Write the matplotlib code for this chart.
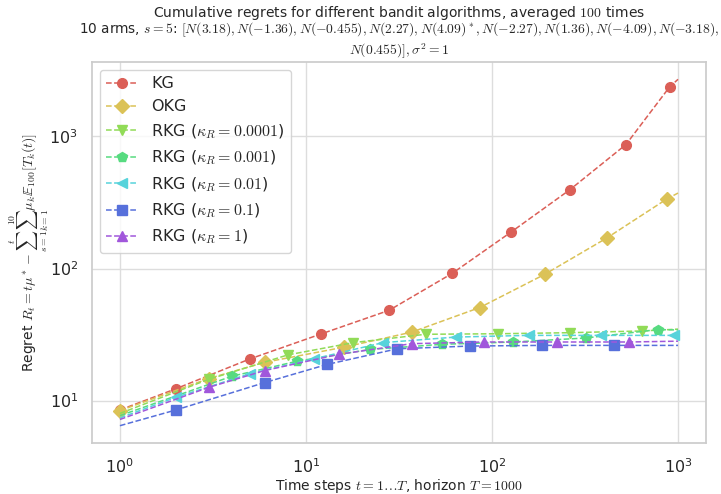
import matplotlib
matplotlib.use("Agg")
import matplotlib.pyplot as plt
import seaborn as sns

# ---- data ----
kg_t = [1, 2, 5, 12, 28, 61, 126, 262, 525, 901, 1000]
kg_r = [8.5, 12.3, 20.7, 31.9, 48.3, 91.8, 188, 395, 869, 2373, 2710]
kg_m = [0, 1, 2, 3, 4, 5, 6, 7, 8, 9]

okg_t = [1, 3, 6, 16, 37, 86, 192, 413, 875, 1000]
okg_r = [8.4, 14.7, 19.5, 25.4, 33.0, 50.7, 90.4, 170, 338, 373]
okg_m = [0, 1, 2, 3, 4, 5, 6, 7, 8]

rkg4_t = [1, 3, 8, 18, 44, 108, 264, 642, 1000]
rkg4_r = [8.0, 14.5, 22.2, 27.5, 31.8, 32.1, 32.7, 33.7, 34.8]
rkg4_m = [1, 2, 3, 4, 5, 6, 7]

rkg3_t = [1, 4, 9, 22, 54, 130, 319, 776, 1000]
rkg3_r = [7.7, 15.3, 19.9, 24.4, 26.7, 27.8, 29.8, 34.5, 34.3]
rkg3_m = [1, 2, 3, 4, 5, 6, 7]

rkg2_t = [1, 2, 5, 11, 26, 64, 158, 385, 954, 1000]
rkg2_r = [7.4, 10.6, 16.0, 20.7, 27.5, 30.3, 31.2, 31.2, 31.2, 31.2]
rkg2_m = [1, 2, 3, 4, 5, 6, 7, 8]

rkg1_t = [1, 2, 6, 13, 31, 76, 185, 453, 1000]
rkg1_r = [6.46, 8.5, 13.7, 18.8, 24.7, 25.9, 26.2, 26.2, 26.2]
rkg1_m = [1, 2, 3, 4, 5, 6, 7]

rkg0_t = [1, 3, 6, 15, 37, 91, 224, 544, 1000]
rkg0_r = [7.2, 12.6, 16.9, 22.4, 27.0, 27.8, 27.8, 27.8, 28.2]
rkg0_m = [1, 2, 3, 4, 5, 6, 7]

labels = ["KG", "OKG",
          r"RKG ($\kappa_R=0.0001$)", r"RKG ($\kappa_R=0.001$)",
          r"RKG ($\kappa_R=0.01$)", r"RKG ($\kappa_R=0.1$)",
          r"RKG ($\kappa_R=1$)"]
series = [(kg_t, kg_r, kg_m), (okg_t, okg_r, okg_m),
          (rkg4_t, rkg4_r, rkg4_m), (rkg3_t, rkg3_r, rkg3_m),
          (rkg2_t, rkg2_r, rkg2_m), (rkg1_t, rkg1_r, rkg1_m),
          (rkg0_t, rkg0_r, rkg0_m)]
markers = ["o", "D", "v", "p", "<", "s", "^"]

sns.set_theme(style="whitegrid")
plt.rcParams['font.family'] = ['DejaVu Sans']
plt.rcParams['mathtext.fontset'] = 'cm'
colors = sns.color_palette("hls", 8)

fig = plt.figure(figsize=(7.21, 4.94), dpi=100)
ax = fig.add_axes([0.1276, 0.1032, 0.8515, 0.7713])

for (t, r, m), lab, mk, c in zip(series, labels, markers, colors):
    ax.plot(t, r, linestyle="--", marker=mk, markevery=m, color=c,
            label=lab, linewidth=1.1, markersize=7)

ax.set_xscale("log")
ax.set_yscale("log")
ax.tick_params(labelsize=11.5, pad=4)
ax.grid(True, which="major", color="#dddddd")
ax.legend(loc="upper left", fontsize=11.5)

ax.set_xlabel(r"Time steps $t=1\ldots T$, horizon $T=1000$", fontsize=10, labelpad=1)
ax.set_ylabel(r"Regret $R_t = t \mu^* - \sum_{s=1}^{t} \sum_{k=1}^{10} \mu_k \mathbb{E}_{100}[T_k(t)]$",
              fontsize=10, labelpad=-1)
fig.text(0.5535, 1 - 12.5 / 494, "Cumulative regrets for different bandit algorithms, averaged $100$ times",
         ha="center", va="center", fontsize=10)
ax.set_title(r"10 arms, $s=5$: $[N(3.18), N(-1.36), N(-0.455), N(2.27), N(4.09)^*, N(-2.27), N(1.36), N(-4.09), N(-3.18),$"
             "\n" r"$N(0.455)], \sigma^2=1$", fontsize=9.8, pad=5)

fig.savefig("out.png", dpi=100)
